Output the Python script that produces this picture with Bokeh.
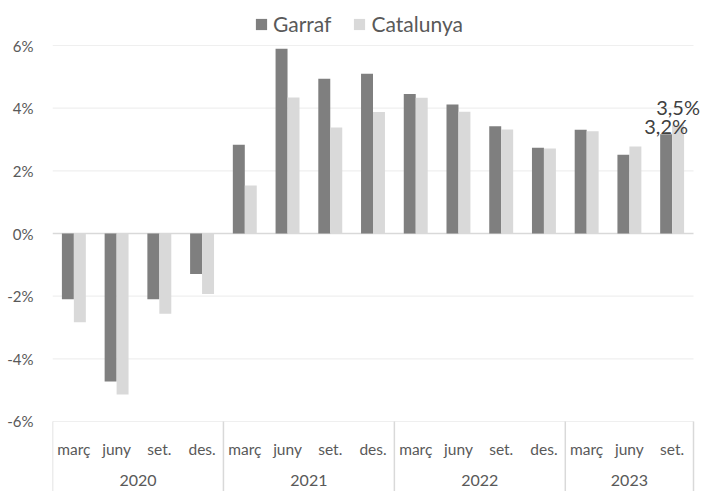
from bokeh.plotting import figure
from bokeh.models import (Range1d, FixedTicker, ColumnDataSource, Legend, LegendItem, Label)
from bokeh.core.properties import value
from bokeh.embed import file_html
from bokeh.resources import INLINE

# ---- data ----
years = ["2020", "2021", "2022", "2023"]
months_per_year = [["març", "juny", "set.", "des."],
                   ["març", "juny", "set.", "des."],
                   ["març", "juny", "set.", "des."],
                   ["març", "juny", "set."]]
garraf = [-2.10, -4.72, -2.10, -1.29,
          2.83, 5.90, 4.94, 5.10,
          4.45, 4.12, 3.42, 2.74,
          3.31, 2.51, 3.17]
catalunya = [-2.83, -5.14, -2.56, -1.93,
             1.53, 4.34, 3.38, 3.88,
             4.33, 3.89, 3.32, 2.71,
             3.26, 2.78, 3.47]
y_ticks = [-6, -4, -2, 0, 2, 4, 6]
y_tick_labels = ["-6%", "-4%", "-2%", "0%", "2%", "4%", "6%"]
series_names = ["Garraf", "Catalunya"]

# ---- styling / layout ----
FONT = "Lato"
C_G = "#7f7f7f"
C_C = "#d9d9d9"
TXT = "#595959"
BAR_W = 0.28
W, H = 702, 491
LEFT = 52
PX_PER_UNIT = 31.33
ZERO_PX = 233          # vertical pixel of the 0 line from the top
SLOT_PX = 641 / 15.0

months = [m for ms in months_per_year for m in ms]
n = len(months)
idx = list(range(n))

y_top = ZERO_PX / PX_PER_UNIT
y_bot = y_top - H / PX_PER_UNIT
x_end = (W - LEFT) / SLOT_PX

p = figure(width=W, height=H, output_backend="svg", toolbar_location=None,
           x_range=Range1d(0, x_end), y_range=Range1d(y_bot, y_top),
           min_border_left=LEFT, min_border_right=0, min_border_top=0, min_border_bottom=0)
p.outline_line_color = None
p.background_fill_color = "white"
p.border_fill_color = "white"

# grid (drawn over the category span only)
p.xgrid.visible = False
p.ygrid.visible = False
grid_ticks = [t for t in y_ticks if t != 0]
p.segment(x0=[0] * len(grid_ticks), x1=[n] * len(grid_ticks), y0=grid_ticks, y1=grid_ticks,
          line_color="#efefef", line_width=1.2)
p.segment(x0=[0], x1=[n], y0=[0], y1=[0], line_color="#d9d9d9", line_width=1.5)

# axes
p.xaxis.visible = False
p.yaxis.ticker = FixedTicker(ticks=y_ticks)
p.yaxis.major_label_overrides = {t: l for t, l in zip(y_ticks, y_tick_labels)}
p.yaxis.axis_line_color = None
p.yaxis.major_tick_line_color = None
p.yaxis.minor_tick_line_color = None
p.yaxis.major_tick_out = 0
p.yaxis.major_tick_in = 0
p.yaxis.minor_tick_out = 0
p.yaxis.major_label_standoff = 19
p.yaxis.major_label_text_font = FONT
p.yaxis.major_label_text_font_size = "15px"
p.yaxis.major_label_text_color = TXT

src = ColumnDataSource(dict(
    xg=[i + 0.5 - BAR_W / 2 for i in idx],
    xc=[i + 0.5 + BAR_W / 2 for i in idx],
    g=garraf, c=catalunya))
rg = p.vbar(x="xg", top="g", bottom=0, width=BAR_W, source=src, fill_color=C_G, line_color=None)
rc = p.vbar(x="xc", top="c", bottom=0, width=BAR_W, source=src, fill_color=C_C, line_color=None)

# category labels
p.text(x=[i + 0.5 for i in idx], y=[(ZERO_PX - 448) / PX_PER_UNIT] * n, text=months,
       text_font=value(FONT), text_font_size="15.5px", text_color=TXT,
       text_align="center", text_baseline="middle")
starts = []
s = 0
for ms in months_per_year:
    starts.append(s)
    s += len(ms)
bounds = starts + [n]
p.text(x=[(bounds[k] + bounds[k + 1]) / 2 for k in range(len(years))],
       y=[(ZERO_PX - 480) / PX_PER_UNIT] * len(years),
       text=years, text_font=value(FONT), text_font_size="16px", text_color=TXT,
       text_align="center", text_baseline="middle")
p.segment(x0=bounds, x1=bounds, y0=[-6] * len(bounds), y1=[y_bot - 1] * len(bounds),
          line_color="#d9d9d9", line_width=1.5)

# data labels for last quarter
def fmt(v):
    return f"{v:.1f}".replace(".", ",") + "%"

p.add_layout(Label(x=n - 1 + 0.5 - BAR_W / 2, y=garraf[-1], text=fmt(garraf[-1]),
                   y_offset=8, text_align="center", text_baseline="alphabetic",
                   text_font=FONT, text_font_size="20px", text_color="#404040"))
p.add_layout(Label(x=n - 1 + 0.5 + BAR_W / 2, y=catalunya[-1], text=fmt(catalunya[-1]),
                   y_offset=18, text_align="center", text_baseline="alphabetic",
                   text_font=FONT, text_font_size="20px", text_color="#404040"))

legend = Legend(items=[LegendItem(label=series_names[0], renderers=[rg]),
                       LegendItem(label=series_names[1], renderers=[rc])],
                orientation="horizontal", location=(202, 455),
                border_line_color=None, background_fill_alpha=0,
                padding=0, margin=0, spacing=21, label_standoff=5,
                glyph_width=14, glyph_height=14,
                label_text_font=FONT, label_text_font_size="21px", label_text_color=TXT)
p.add_layout(legend)

open("out.html", "w").write(file_html(p, INLINE))
